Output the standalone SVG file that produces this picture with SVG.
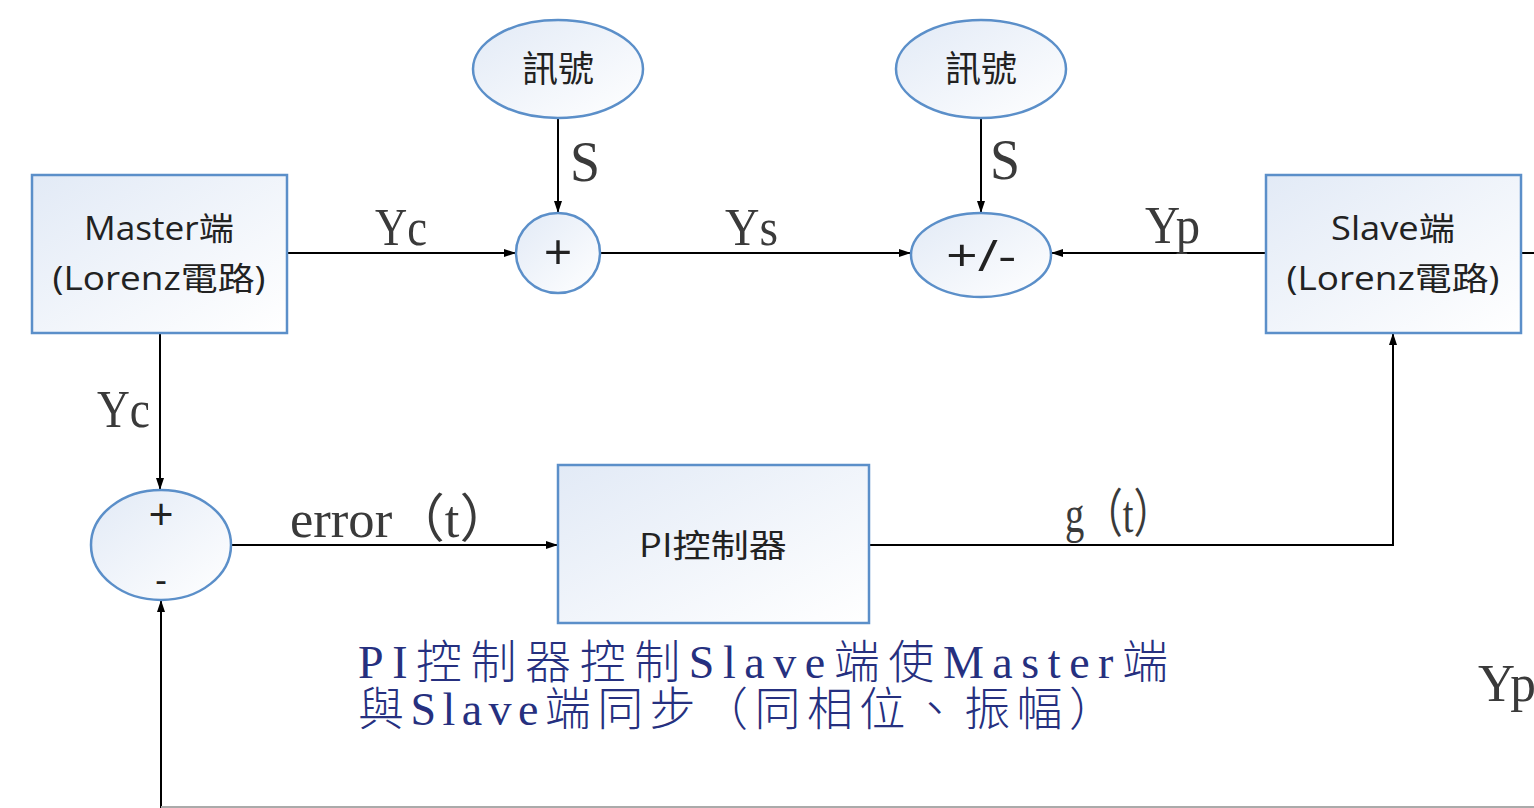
<svg xmlns="http://www.w3.org/2000/svg" width="1534" height="808" viewBox="0 0 1534 808">
<defs>
<linearGradient id="fillg" x1="0" y1="0" x2="1" y2="1">
<stop offset="0" stop-color="#e2eaf6"/>
<stop offset="1" stop-color="#ffffff"/>
</linearGradient>
<marker id="arr" markerWidth="12" markerHeight="10" refX="11" refY="5" orient="auto" markerUnits="userSpaceOnUse">
<path d="M0,1 L12,5 L0,9 Z" fill="#000"/>
</marker>
<style>
.shape{fill:url(#fillg);stroke:#5b8fc9;stroke-width:2.5}
.wire{fill:none;stroke:#000;stroke-width:2}
.box{font-family:"Open Sans","Noto Sans","Noto Sans CJK TC",sans-serif;font-size:32px;fill:#222;text-anchor:middle}
.lbl{font-family:"Liberation Serif","Noto Sans CJK TC",serif;font-size:52px;fill:#3a3a3a}
.note{font-family:"Liberation Serif","Noto Sans CJK TC",serif;font-size:46px;fill:#26307f;font-weight:300}
</style>
</defs>
<rect width="1534" height="808" fill="#fff"/>

<g id="connectors">
<line class="wire" x1="287" y1="253" x2="515" y2="253" marker-end="url(#arr)"/>
<line class="wire" x1="558" y1="118" x2="558" y2="212" marker-end="url(#arr)"/>
<line class="wire" x1="600" y1="253" x2="910" y2="253" marker-end="url(#arr)"/>
<line class="wire" x1="981" y1="118" x2="981" y2="212" marker-end="url(#arr)"/>
<line class="wire" x1="1266" y1="253" x2="1052" y2="253" marker-end="url(#arr)"/>
<line class="wire" x1="1521" y1="253" x2="1534" y2="253"/>
<line class="wire" x1="160" y1="333" x2="160" y2="489" marker-end="url(#arr)"/>
<line class="wire" x1="231" y1="545" x2="557" y2="545" marker-end="url(#arr)"/>
<polyline class="wire" points="869,545 1393,545 1393,334" marker-end="url(#arr)"/>
<line class="wire" x1="161" y1="808" x2="161" y2="601" marker-end="url(#arr)"/>
<line x1="161" y1="807" x2="1534" y2="807" stroke="#aaa" stroke-width="2"/>
</g>

<g id="master">
<rect class="shape" x="32" y="175" width="255" height="158"/>
<text class="box" x="159" y="240" textLength="150" lengthAdjust="spacingAndGlyphs">Master端</text>
<text class="box" x="159" y="290" textLength="213" lengthAdjust="spacingAndGlyphs">(Lorenz電路)</text>
</g>

<g id="slave">
<rect class="shape" x="1266" y="175" width="255" height="158"/>
<text class="box" x="1393" y="240" textLength="124" lengthAdjust="spacingAndGlyphs">Slave端</text>
<text class="box" x="1393" y="290" textLength="213" lengthAdjust="spacingAndGlyphs">(Lorenz電路)</text>
</g>

<g id="signal1">
<ellipse class="shape" cx="558" cy="69" rx="85" ry="49"/>
<text class="box" x="558" y="82" style="font-size:36px">訊號</text>
</g>

<g id="signal2">
<ellipse class="shape" cx="981" cy="69" rx="85" ry="49"/>
<text class="box" x="981" y="82" style="font-size:36px">訊號</text>
</g>

<g id="sum1">
<ellipse class="shape" cx="558" cy="253" rx="42" ry="40"/>
<text class="box" x="558" y="270" style="font-size:50px">+</text>
</g>

<g id="sum2">
<ellipse class="shape" cx="981" cy="255" rx="70" ry="42"/>
<text class="box" x="981" y="271" textLength="70" lengthAdjust="spacingAndGlyphs" style="font-size:44px">+/-</text>
</g>

<g id="sum3">
<ellipse class="shape" cx="161" cy="545" rx="70" ry="55"/>
<text class="box" x="161" y="530" style="font-size:44px">+</text>
<text class="box" x="161" y="593" style="font-size:36px">-</text>
</g>

<g id="pi">
<rect class="shape" x="558" y="465" width="311" height="158"/>
<text class="box" x="713" y="557" textLength="148" lengthAdjust="spacingAndGlyphs">PI控制器</text>
</g>

<g id="labels">
<text class="lbl" x="375" y="245" textLength="52" lengthAdjust="spacingAndGlyphs">Yc</text>
<text class="lbl" x="570" y="181" style="font-size:56px" textLength="30" lengthAdjust="spacingAndGlyphs">S</text>
<text class="lbl" x="725" y="245" textLength="53" lengthAdjust="spacingAndGlyphs">Ys</text>
<text class="lbl" x="990" y="179" style="font-size:56px" textLength="30" lengthAdjust="spacingAndGlyphs">S</text>
<text class="lbl" x="1145" y="243" textLength="55" lengthAdjust="spacingAndGlyphs">Yp</text>
<text class="lbl" x="97" y="427" textLength="53" lengthAdjust="spacingAndGlyphs">Yc</text>
<text class="lbl" x="290" y="537" textLength="222" lengthAdjust="spacingAndGlyphs">error（t）</text>
<text class="lbl" x="1065" y="532" textLength="107" lengthAdjust="spacingAndGlyphs">g（t）</text>
<text class="lbl" x="1478" y="701" textLength="58" lengthAdjust="spacingAndGlyphs">Yp</text>
</g>

<g id="note">
<text class="note" x="358" y="678" textLength="810" lengthAdjust="spacing">PI控制器控制Slave端使Master端</text>
<text class="note" x="358" y="725" textLength="757" lengthAdjust="spacing">與Slave端同步（同相位、振幅）</text>
</g>
</svg>
